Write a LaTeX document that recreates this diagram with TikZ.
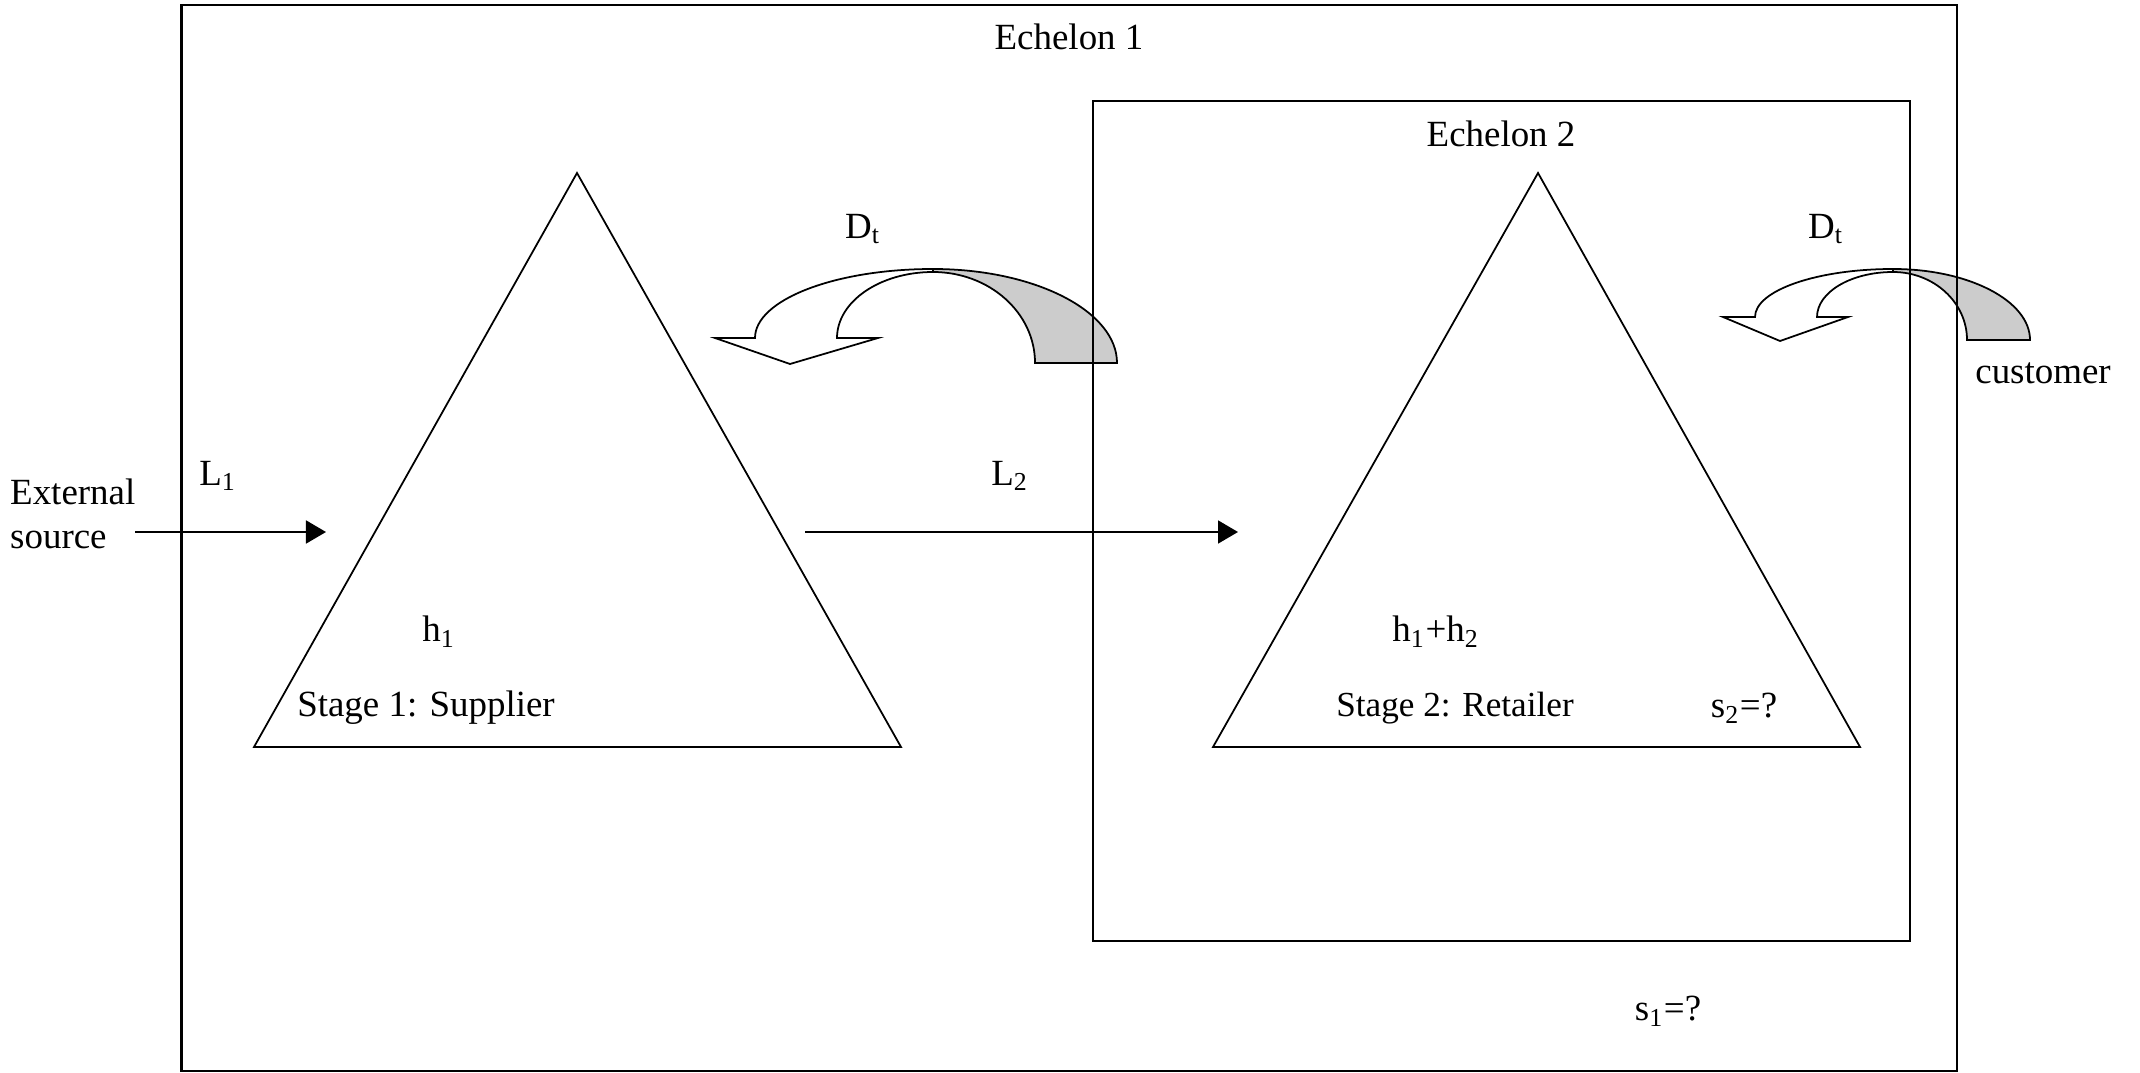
\documentclass[tikz,border=0pt]{standalone}
\usepackage{fontspec}
\setmainfont{Liberation Serif}
\usetikzlibrary{arrows.meta,positioning}
\definecolor{BandGray}{HTML}{CCCCCC}

\begin{document}
\begin{tikzpicture}[
  x=0.01cm,
  y=0.01cm,
  font=\fontsize{10.5pt}{12.6pt}\selectfont,
  >={Triangle[length=2mm,width=2.3mm]},
  label/.style={inner sep=1pt},
  frame/.style={draw,line width=0.6pt},
  stage/.style={draw,line width=0.5pt,line join=miter},
  flow/.style={->,line width=0.5pt},
  band/.style={draw,line width=0.5pt,fill=BandGray},
  front/.style={draw,line width=0.5pt,fill=white}
]
\useasboundingbox (0,0) rectangle (2140,1072);

% curved demand arrows (drawn first, frames pass over them)
\draw[band] (1117,709) arc[start angle=0,end angle=90,x radius=184,y radius=94]
  -- (933,800) arc[start angle=90,end angle=0,x radius=102,y radius=91] -- cycle;
\draw[front] (878,734) -- (837,734)
  arc[start angle=180,end angle=90,x radius=96,y radius=66]
  -- (933,803) arc[start angle=90,end angle=180,x radius=178,y radius=69]
  -- (715,734) -- (790,708) -- cycle;

\draw[band] (2030,732) arc[start angle=0,end angle=90,x radius=137,y radius=71]
  -- (1893,800) arc[start angle=90,end angle=0,x radius=74,y radius=68] -- cycle;
\draw[front] (1848,755) -- (1817,755)
  arc[start angle=180,end angle=90,x radius=76,y radius=45]
  -- (1893,803) arc[start angle=90,end angle=180,x radius=138,y radius=48]
  -- (1755,755) -- (1723,755) -- (1780,731) -- cycle;

% echelons
\draw[frame] (181.5,1067) rectangle (1957,1);
\draw[frame] (1093,971) rectangle (1910,131);

% stages
\coordinate (top1) at (577,899);
\coordinate (left1) at (254,325);
\coordinate (right1) at (901,325);
\coordinate (top2) at (1538,899);
\coordinate (left2) at (1213,325);
\coordinate (right2) at (1860,325);
\draw[stage] (top1) -- (left1) -- (right1) -- cycle;
\draw[stage] (top2) -- (left2) -- (right2) -- cycle;

% texts
\node[label] (ech1) at (1069,1035) {Echelon 1};
\node[label] (ech2) at (1501,938) {Echelon 2};
\node[label,anchor=west,align=left] (source) at (6,558) {External\\source};
\node[label] (lead1) at (218,596) {L\textsubscript{1}};
\node[label] (lead2) at (1010,596) {L\textsubscript{2}};
\node[label] (hold1) at (439,440) {h\textsubscript{1}};
\node[label] (hold2) at (1436,440) {h\textsubscript{1}+h\textsubscript{2}};
\node[label] (supplier) at (426,364) {Stage 1: Supplier};
\node[label,font=\fontsize{10pt}{12pt}\selectfont] (retailer) at (1455,364) {Stage 2: Retailer};
\node[label] (base2) at (1744,364) {s\textsubscript{2}=?};
\node[label] (base1) at (1668,61) {s\textsubscript{1}=?};
\node[label] (dem1) at (863,843) {D\textsubscript{t}};
\node[label] (dem2) at (1826,843) {D\textsubscript{t}};
\node[label] (customer) at (2043,699) {customer};

% material flow
\coordinate (in1) at (135,540);
\coordinate (at1) at (326,540);
\coordinate (out1) at (805,540);
\coordinate (at2) at (1238,540);
\draw[flow] (in1) -- (at1);
\draw[flow] (out1) -- (at2);
\end{tikzpicture}
\end{document}
